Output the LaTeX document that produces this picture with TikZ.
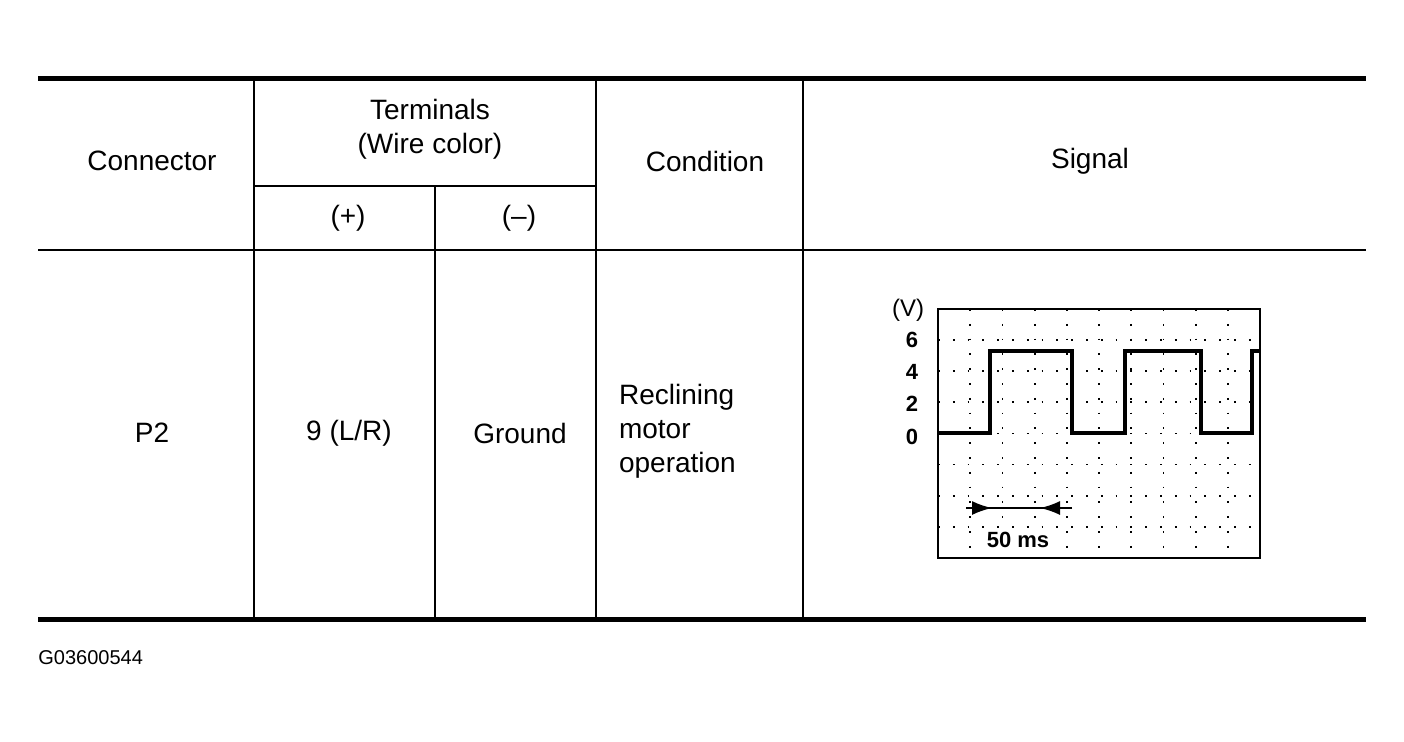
\documentclass[tikz,border=0pt]{standalone}
\usepackage{fontspec}
\setmainfont{Liberation Sans}
\usetikzlibrary{arrows.meta}
\begin{document}
\begin{tikzpicture}[
    x=0.5pt, y=-0.5pt,
    >=Latex,
    rule/.style={line width=2.5pt},
    cell/.style={line width=0.9pt},
    txt/.style={font=\fontsize{14}{17}\selectfont, align=left},
    axlabel/.style={font=\fontsize{11}{12}\selectfont\bfseries, inner sep=0pt},
    griddot/.style={line width=0.9pt, dash pattern=on 0.9pt off 6.5pt},
    trace/.style={line width=2.3pt, line join=miter}
  ]
  \useasboundingbox (0,0) rectangle (1404,741);

  % Table rules
  \draw[rule] (38,78) -- (1366,78);
  \draw[cell] (38,250) -- (1366,250);
  \draw[rule] (38,619) -- (1366,619);
  \draw[cell] (254,186) -- (596,186);
  \draw[cell] (254,78) -- (254,619);
  \draw[cell] (435,186) -- (435,619);
  \draw[cell] (596,78) -- (596,619);
  \draw[cell] (803,78) -- (803,619);

  % Header
  \node[txt] (connector) at (152,161) {Connector};
  \node[txt, align=center] (terminals) at (430,129) {Terminals\\(Wire color)};
  \node[txt] (plus) at (348,218) {(+)};
  \node[txt] (minus) at (519,218) {(--)};
  \node[txt] (condition) at (705,161) {Condition};
  \node[txt] (signal) at (1090,161) {Signal};

  % Row
  \node[txt] (p2) at (152,433) {P2};
  \node[txt] (pin) at (349,433) {9 (L/R)};
  \node[txt] (ground) at (520,433) {Ground};
  \node[txt, anchor=west] (reclining) at (612,431) {Reclining\\motor\\operation};

  % Scope screen
  \draw[griddot] \foreach \i in {1,...,9} {(938+32.2*\i,309) -- (938+32.2*\i,558)};
  \draw[griddot] \foreach \j in {1,...,7} {(938,309+31.1*\j) -- (1260,309+31.1*\j)};
  \draw[line width=1.3pt] (938,309) rectangle (1260,558);
  \draw[trace] (938,433) -- (990,433) -- (990,351) -- (1072,351) -- (1072,433)
    -- (1125,433) -- (1125,351) -- (1201,351) -- (1201,433) -- (1252,433)
    -- (1252,351) -- (1260,351);

  \node[font=\fontsize{12}{13}\selectfont, inner sep=0pt] (vunit) at (908,310) {(V)};
  \node[axlabel] (v6) at (912,340) {6};
  \node[axlabel] (v4) at (912,372) {4};
  \node[axlabel] (v2) at (912,404) {2};
  \node[axlabel] (v0) at (912,437) {0};

  % Period marker
  \coordinate (pl) at (966,508);
  \coordinate (pr) at (1072,508);
  \coordinate (pa) at (992,508);
  \coordinate (pb) at (1040,508);
  \draw[line width=1pt] (pl) -- (pr);
  \draw[-{Latex[length=10pt,width=7pt]}, line width=1pt] (pl) -- (pa);
  \draw[-{Latex[length=10pt,width=7pt]}, line width=1pt] (pr) -- (pb);
  \node[axlabel, fill=white, inner sep=1pt] (period) at (1018,540) {50 ms};

  % Figure code
  \node[font=\fontsize{10}{12}\selectfont, anchor=west, inner sep=0pt] (figcode) at (38,658) {G03600544};
\end{tikzpicture}
\end{document}
